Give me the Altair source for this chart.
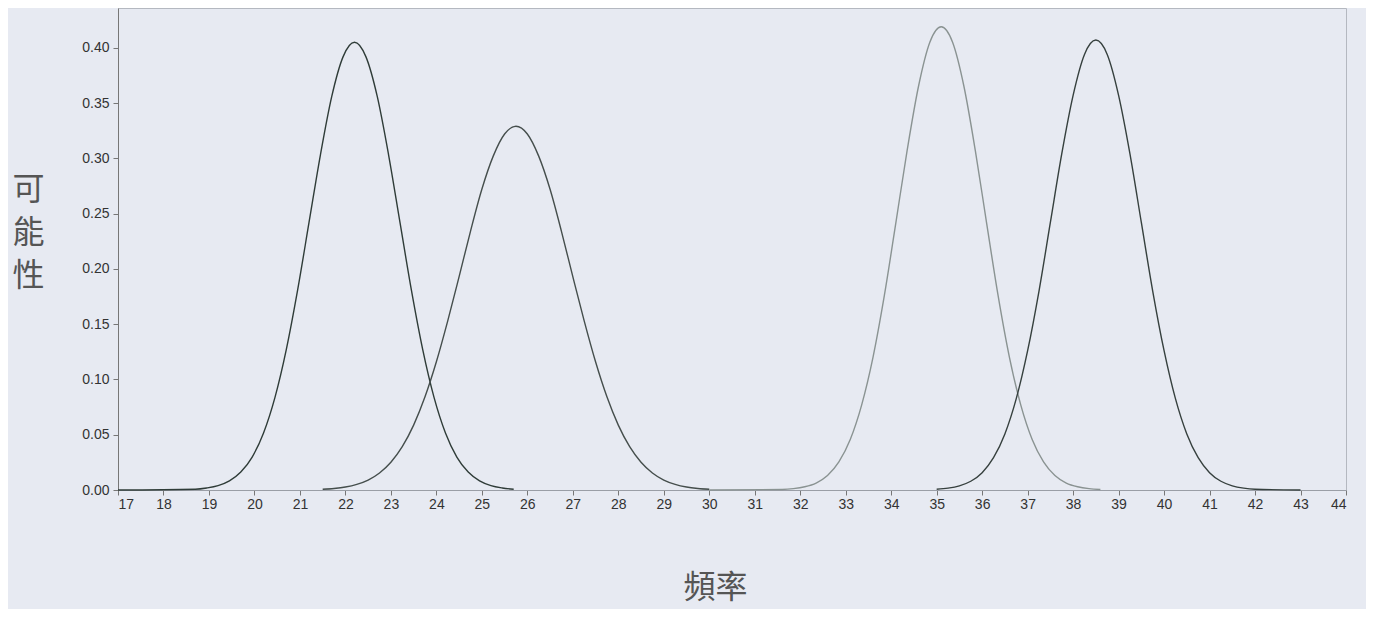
import altair as alt
import pandas as pd

# Curve 1 (peak near 22.2)
x1 = [17.0, 18.7, 18.95, 19.2, 19.45, 19.7, 19.95, 20.2, 20.45, 20.7, 20.95, 21.2, 21.45,
      21.7, 21.95, 22.2, 22.45, 22.7, 22.95, 23.2, 23.45, 23.7, 23.95, 24.2, 24.45, 24.7,
      24.95, 25.2, 25.45, 25.7]
y1 = [0.0, 0.0007, 0.0018, 0.0039, 0.0082, 0.0162, 0.0298, 0.0516, 0.0836, 0.127, 0.181,
      0.242, 0.303, 0.356, 0.392, 0.405, 0.392, 0.356, 0.303, 0.242, 0.181, 0.127, 0.0836,
      0.0516, 0.0298, 0.0162, 0.0082, 0.0039, 0.0018, 0.0007]

# Curve 2 (peak near 25.75)
x2 = [21.5, 21.75, 22.0, 22.25, 22.5, 22.75, 23.0, 23.25, 23.5, 23.75, 24.0, 24.25, 24.5,
      24.75, 25.0, 25.25, 25.5, 25.75, 26.0, 26.25, 26.5, 26.75, 27.0, 27.25, 27.5, 27.75,
      28.0, 28.25, 28.5, 28.75, 29.0, 29.25, 29.5, 29.75, 30.0]
y2 = [0.0007, 0.0014, 0.0027, 0.0051, 0.0090, 0.0154, 0.0251, 0.0392, 0.0587, 0.0843,
      0.116, 0.153, 0.193, 0.234, 0.272, 0.302, 0.322, 0.329, 0.322, 0.302, 0.272, 0.234,
      0.193, 0.153, 0.116, 0.0843, 0.0587, 0.0392, 0.0251, 0.0154, 0.0090, 0.0051, 0.0027,
      0.0014, 0.0007]

# Curve 3 (peak near 35.1, lighter line)
x3 = [30.0, 31.6, 31.85, 32.1, 32.35, 32.6, 32.85, 33.1, 33.35, 33.6, 33.85, 34.1, 34.35,
      34.6, 34.85, 35.1, 35.35, 35.6, 35.85, 36.1, 36.35, 36.6, 36.85, 37.1, 37.35, 37.6,
      37.85, 38.1, 38.35, 38.6]
y3 = [0.0, 0.0005, 0.0012, 0.0029, 0.0063, 0.0131, 0.0254, 0.0457, 0.0768, 0.120, 0.176,
      0.241, 0.307, 0.365, 0.405, 0.419, 0.405, 0.365, 0.307, 0.241, 0.176, 0.120, 0.0768,
      0.0457, 0.0254, 0.0131, 0.0063, 0.0029, 0.0012, 0.0005]

# Curve 4 (peak near 38.5)
x4 = [35.0, 35.25, 35.5, 35.75, 36.0, 36.25, 36.5, 36.75, 37.0, 37.25, 37.5, 37.75, 38.0,
      38.25, 38.5, 38.75, 39.0, 39.25, 39.5, 39.75, 40.0, 40.25, 40.5, 40.75, 41.0, 41.25,
      41.5, 41.75, 42.0, 43.0]
y4 = [0.0007, 0.0017, 0.0038, 0.0079, 0.0157, 0.0292, 0.0507, 0.0826, 0.126, 0.180, 0.242,
      0.304, 0.357, 0.394, 0.407, 0.394, 0.357, 0.304, 0.242, 0.180, 0.126, 0.0826, 0.0507,
      0.0292, 0.0157, 0.0079, 0.0038, 0.0017, 0.0007, 0.0]

curve_names = ["c1", "c2", "c3", "c4"]
curve_colors = ["#2f3c38", "#454e4c", "#8a9392", "#36403e"]

x_ticks = list(range(17, 45))
y_ticks = [0.0, 0.05, 0.10, 0.15, 0.20, 0.25, 0.30, 0.35, 0.40]

rows = []
for name, xs, ys in zip(curve_names, [x1, x2, x3, x4], [y1, y2, y3, y4]):
    for a, b in zip(xs, ys):
        rows.append({"curve": name, "x": a, "y": b})
df = pd.DataFrame(rows)

chart = alt.Chart(df).mark_line(strokeWidth=1.4, interpolate="monotone").encode(
    x=alt.X("x:Q",
            scale=alt.Scale(domain=[17, 44], nice=False, zero=False),
            axis=alt.Axis(values=x_ticks, format="d", grid=False, tickSize=5,
                          tickColor="#777", domainColor="#9a9ea6",
                          labelFont="Liberation Sans", labelFontSize=14,
                          labelColor="#333333", labelPadding=2,
                          title="頻率", titleFont="Noto Sans CJK TC",
                          titleFontSize=32, titleFontWeight="normal",
                          titleColor="#555555", titleX=597, titleY=97,
                          titleBaseline="middle", titleAlign="center")),
    y=alt.Y("y:Q",
            scale=alt.Scale(domain=[0, 0.436], nice=False),
            axis=alt.Axis(values=y_ticks, format=".2f", grid=False, tickSize=5,
                          tickColor="#777", domainColor="#777",
                          labelFont="Liberation Sans", labelFontSize=14,
                          labelColor="#333333", labelPadding=4,
                          title=["可", "能", "性"], titleAngle=0,
                          titleFont="Noto Sans CJK TC", titleFontSize=32,
                          titleFontWeight="normal", titleColor="#555555",
                          titleX=-90, titleY=181, titleAlign="center",
                          titleBaseline="middle", titleLineHeight=43)),
    color=alt.Color("curve:N", scale=alt.Scale(domain=curve_names, range=curve_colors),
                    legend=None),
).properties(
    width=1228,
    height=482,
    autosize=alt.AutoSizeParams(type="none"),
    padding={"left": 110, "top": 0, "right": 20, "bottom": 119},
    background="#e7eaf2",
).configure_view(
    stroke="#b4b8c0",
    strokeWidth=1,
)

chart.save("out.html", embed_options={"renderer": "svg", "actions": False})
